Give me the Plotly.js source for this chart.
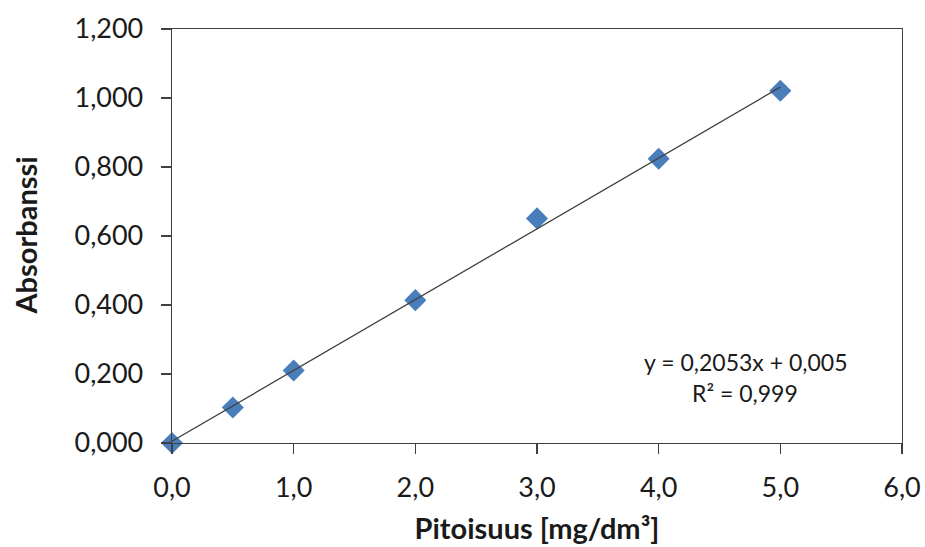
<!DOCTYPE html>
<html>
<head>
<meta charset="utf-8">
<script src="https://cdn.plot.ly/plotly-3.0.1.min.js"></script>
<style>html,body{margin:0;padding:0;background:#fff;}#chart{width:925px;height:547px;}</style>
</head>
<body>
<div id="chart"></div>
<script>
const concentration = [0, 0.5, 1, 2, 3, 4, 5];
const absorbance = [0.000, 0.103, 0.210, 0.414, 0.651, 0.824, 1.021];
const slope = 0.2053;
const intercept = 0.005;
const trendX = [0, 5];
const trendY = trendX.map(x => slope * x + intercept);
const equationLine = "y = 0,2053x + 0,005";
const r2Line = "R² = 0,999";
const xTitle = "Pitoisuus [mg/dm³]";
const yTitle = "Absorbanssi";

const font = "Lato, 'Open Sans', sans-serif";

const data = [
  {
    x: concentration, y: absorbance, type: 'scatter', mode: 'markers',
    marker: {symbol: 'diamond', size: 17, color: '#4a7ebb'},
    cliponaxis: false, showlegend: false
  },
  {
    x: trendX, y: trendY, type: 'scatter', mode: 'lines',
    line: {color: '#404040', width: 1.3},
    cliponaxis: false, showlegend: false
  }
];

const layout = {
  width: 925, height: 547,
  margin: {l: 172, r: 23, t: 29, b: 104},
  paper_bgcolor: '#fff', plot_bgcolor: '#fff',
  separators: ', ',
  font: {family: font, color: '#1a1a1a'},
  xaxis: {
    range: [0, 6], dtick: 1, tick0: 0, tickformat: '.1f',
    showgrid: false, zeroline: false,
    showline: true, linecolor: '#404040', linewidth: 1.3, mirror: true,
    ticks: 'outside', ticklen: 10, tickcolor: '#404040', tickwidth: 1.3,
    tickfont: {size: 27, family: font, color: '#1a1a1a'},
    ticklabelstandoff: 10,
    title: {text: '<b>' + xTitle + '</b>', font: {size: 29, family: font, color: '#1a1a1a'}, standoff: 17}
  },
  yaxis: {
    range: [0, 1.2], dtick: 0.2, tick0: 0, tickformat: '.3f',
    showgrid: false, zeroline: false,
    showline: true, linecolor: '#404040', linewidth: 1.3, mirror: true,
    ticks: 'outside', ticklen: 10, tickcolor: '#404040', tickwidth: 1.3,
    tickfont: {size: 27, family: font, color: '#1a1a1a'},
    ticklabelstandoff: 12
  },
  annotations: [
    {
      text: '<b>' + yTitle + '</b>', xref: 'paper', yref: 'paper',
      x: -0.2, y: 0.501, xanchor: 'center', yanchor: 'middle',
      textangle: -90, showarrow: false,
      font: {size: 29, family: font, color: '#1a1a1a'}
    },
    {
      text: equationLine, xref: 'x', yref: 'y', x: 4.71, y: 0.235,
      xanchor: 'center', yanchor: 'middle', showarrow: false,
      font: {size: 23, family: font, color: '#1a1a1a'}
    },
    {
      text: r2Line, xref: 'x', yref: 'y', x: 4.71, y: 0.145,
      xanchor: 'center', yanchor: 'middle', showarrow: false,
      font: {size: 23, family: font, color: '#1a1a1a'}
    }
  ]
};

Plotly.newPlot('chart', data, layout, {displayModeBar: false, staticPlot: true});
</script>
</body>
</html>
